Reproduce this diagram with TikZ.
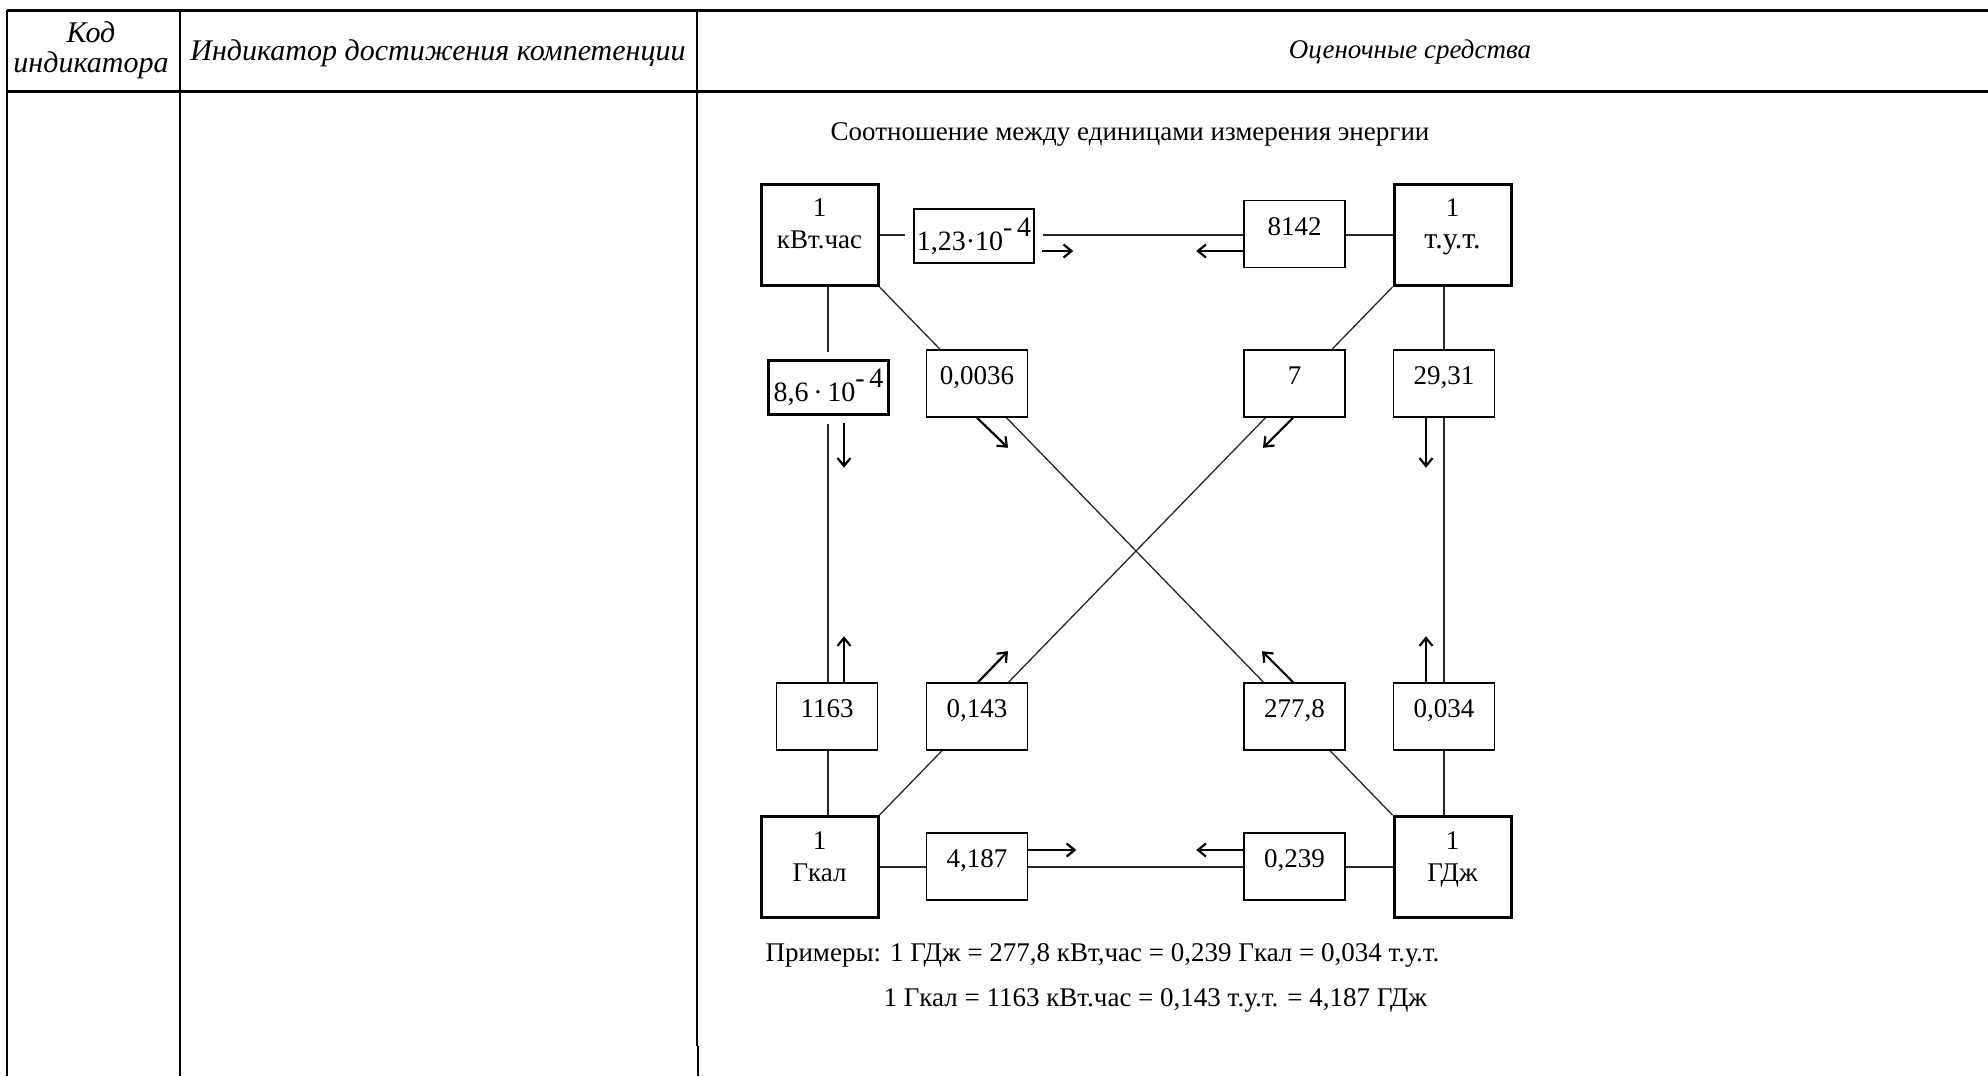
\documentclass[tikz,border=0pt]{standalone}
\usepackage{fontspec}
\setmainfont{Liberation Serif}
\usepackage{tikz}
\usetikzlibrary{shapes,arrows,arrows.meta}

\begin{document}
\begin{tikzpicture}[x=1pt,y=-1pt,
  head/.style={align=center,font=\fontsize{30}{29}\selectfont\itshape},
  unit/.style={rectangle,draw,line width=3pt,fill=white,minimum width=117pt,minimum height=101pt,align=center,font=\fontsize{27}{32}\selectfont},
  coef/.style={rectangle,draw,line width=1.6pt,fill=white,minimum width=101pt,minimum height=67pt,inner sep=0pt,text height=18pt,text depth=16pt,font=\fontsize{27}{30}\selectfont},
  pow/.style={rectangle,draw,line width=2.5pt,fill=white,minimum width=120pt,minimum height=54pt,inner sep=1pt,font=\fontsize{28}{30}\selectfont,preaction={draw=white,line width=18pt}},
  link/.style={line width=1.8pt,black!85},
  flow/.style={-{Straight Barb[length=8pt,width=13pt]},line width=2.2pt}]

\useasboundingbox (0,0) rectangle (1988,1076);

% table
\draw[line width=3pt] (7,10) -- (1988,10);
\draw[line width=3pt] (7,91) -- (1988,91);
\draw[line width=2pt] (7,10) -- (7,1076);
\draw[line width=2pt] (180,10) -- (180,1076);
\draw[line width=2pt] (697,10) -- (697,1046);
\draw[line width=2.6pt] (698,1046) -- (698,1076);

\node[head,font=\fontsize{30}{30}\selectfont\itshape] (h1) at (91,50) {Код\\индикатора};
\node[head] (h2) at (438,53) {Индикатор достижения компетенции};
\node[head,font=\fontsize{27}{30}\selectfont\itshape] (h3) at (1410,52) {Оценочные средства};

\node[font=\fontsize{27}{30}\selectfont,anchor=base] (t) at (1130,140) {Соотношение между единицами измерения энергии};

% units
\node[unit] (v1) at (819.5,235) {1\\кВт.час\\[-10pt]\mbox{}};
\node[unit] (v2) at (1452.5,235) {1\\{\fontsize{30}{32}\selectfont т.у.т.}\\[-10pt]\mbox{}};
\node[unit] (v3) at (819.5,867) {1\\Гкал\\[-12pt]\mbox{}};
\node[unit] (v4) at (1452.5,867) {1\\ГДж\\[-12pt]\mbox{}};

\draw[link] (v1) -- (v2);
\draw[link] (v3) -- (v4);
\draw[link] (v1.south -| 828,0) -- (v3.north -| 828,0);
\draw[link] (v2.south -| 1444,0) -- (v4.north -| 1444,0);
\draw[link,line width=1.3pt] (v1.south east) -- (v4.north west);
\draw[link,line width=1.3pt] (v2.south west) -- (v3.north east);

% factors
\node[pow] (v5) at (974,236) {1,23·10\raisebox{0.5em}{-\,4}};
\node[coef] (v6) at (1294.5,234) {8142};
\node[pow] (v7) at (828.5,387.5) {8,6\,·\,10\raisebox{0.5em}{-\,4}};
\node[coef] (v8) at (977,383.5) {0,0036};
\node[coef] (v9) at (1294.5,383.5) {7};
\node[coef] (v10) at (1444,383.5) {29,31};
\node[coef] (v11) at (827,716.5) {1163};
\node[coef] (v12) at (977,716.5) {0,143};
\node[coef] (v13) at (1294.5,716.5) {277,8};
\node[coef] (v14) at (1444,716.5) {0,034};
\node[coef] (v15) at (977,866.5) {4,187};
\node[coef] (v16) at (1294.5,866.5) {0,239};

\foreach \n/\sx/\sy/\dx/\dy in {v5.east/7/15/31/0, v6.west/0/17/-47/0,
    v7.south/15.5/7/0/45, v8.south/0/0/31/30, v9.south/-1.5/0/-30/30,
    v10.south/-18/0/0/50, v11.north/17/0/0/-46, v12.north/1/0/30/-31,
    v13.north/-1.5/0/-31/-31, v14.north/-18/0/0/-46,
    v15.east/0/-16.5/48/0, v16.west/0/-16.5/-47/0}
    \draw[flow] ([shift={(\sx,\sy)}]\n) -- ++(\dx,\dy);

\node[font=\fontsize{27}{30}\selectfont,anchor=base west] (ex1) at (762,961) {Примеры: 1 ГДж = 277,8 кВт,час = 0,239 Гкал = 0,034\ т.у.т.};
\node[font=\fontsize{27}{30}\selectfont,anchor=base west] (ex2) at (880,1006) {1 Гкал = 1163 кВт.час = 0,143 т.у.т. = 4,187 ГДж};

\end{tikzpicture}
\end{document}
